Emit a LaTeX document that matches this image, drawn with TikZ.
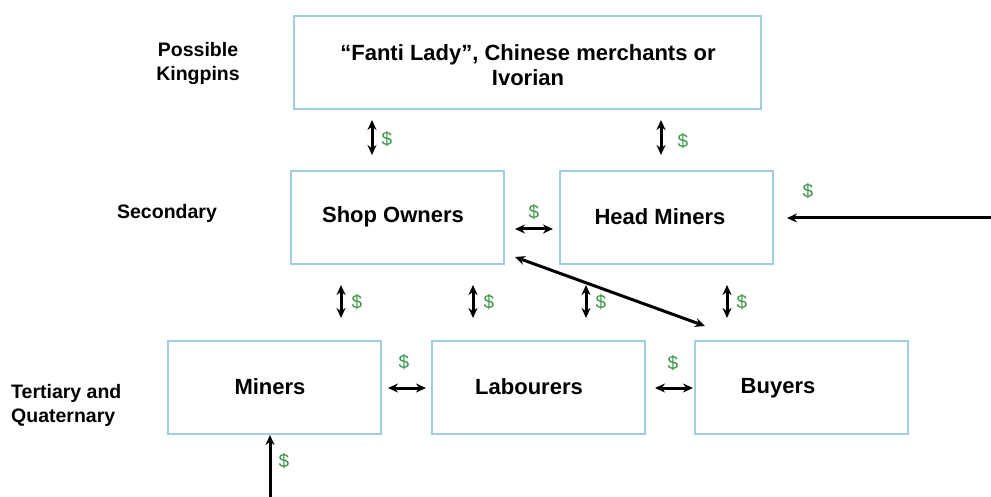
\documentclass[tikz,border=0pt]{standalone}
\usepackage{fontspec}
\setmainfont{Liberation Sans}
\usetikzlibrary{arrows.meta}
\definecolor{boxblue}{RGB}{160,205,225}
\definecolor{money}{RGB}{60,150,72}
\begin{document}
\begin{tikzpicture}[x=1pt,y=-1pt,
 box/.style={draw=boxblue,line width=2pt,minimum width=213pt,minimum height=93pt,inner sep=0pt},
 txt/.style={font=\bfseries\fontsize{22}{25}\selectfont,inner sep=0pt,align=center},
 side/.style={font=\bfseries\fontsize{19.5}{24}\selectfont,inner sep=0pt},
 cash/.style={text=money,font=\fontsize{19}{20}\selectfont,inner sep=0pt},
 flow/.style={line width=3pt,-{Stealth[length=10pt,width=9pt]}},
 both/.style={line width=3pt,{Stealth[length=10pt,width=9pt]}-{Stealth[length=10pt,width=9pt]}}]
\useasboundingbox (0,0) rectangle (991,497);
\fill[white] (0,0) rectangle (991,497);

% boxes
\node[box,minimum width=467pt] (king) at (527.5,63) {};
\node[box] (shop) at (397.5,217.5) {};
\node[box] (head) at (666.5,217.5) {};
\node[box] (miners) at (274,387.5) {};
\node[box] (lab) at (538,387.5) {};
\node[box] (buy) at (801,387.5) {};

% box texts
\node[txt] (kingt) at (528,65) {“Fanti Lady”, Chinese merchants or\\Ivorian};
\node[txt] (shopt) at (393,217) {Shop Owners};
\node[txt] (headt) at (660,217) {Head Miners};
\node[txt] (minerst) at (270,387) {Miners};
\node[txt] (labt) at (529,387) {Labourers};
\node[txt] (buyt) at (778,388) {Buyers};

% side labels
\node[side,align=center] (l1) at (198,64) {Possible\\Kingpins};
\node[side] (l2) at (167,213) {Secondary};
\node[side,align=left,anchor=west] (l3) at (11,405) {Tertiary and\\Quaternary};

% connector coordinates
\coordinate (a1) at (372,120); \coordinate (a2) at (372,155);
\coordinate (b1) at (661,120); \coordinate (b2) at (661,155);
\coordinate (c1) at (515,229); \coordinate (c2) at (553,229);
\coordinate (d1) at (341,285); \coordinate (d2) at (341,318);
\coordinate (e1) at (473,285); \coordinate (e2) at (473,318);
\coordinate (f1) at (586,285); \coordinate (f2) at (586,318);
\coordinate (g1) at (727,285); \coordinate (g2) at (727,318);
\coordinate (h1) at (388,388); \coordinate (h2) at (426,388);
\coordinate (i1) at (655,388); \coordinate (i2) at (693,388);
\coordinate (j1) at (270,497); \coordinate (j2) at (270,435);
\coordinate (k1) at (991,218); \coordinate (k2) at (787,218);
\coordinate (m1) at (515,257); \coordinate (m2) at (705,326);

\draw[both] (a1) -- (a2);
\draw[both] (b1) -- (b2);
\draw[both] (c1) -- (c2);
\draw[both] (d1) -- (d2);
\draw[both] (e1) -- (e2);
\draw[both] (f1) -- (f2);
\draw[both] (g1) -- (g2);
\draw[both] (h1) -- (h2);
\draw[both] (i1) -- (i2);
\draw[both] (m1) -- (m2);
\draw[flow] (j1) -- (j2);
\draw[flow] (k1) -- (k2);

% money labels
\node[cash] (s1) at (387,139) {\$};
\node[cash] (s2) at (683,141) {\$};
\node[cash] (s3) at (534,212) {\$};
\node[cash] (s4) at (808,191) {\$};
\node[cash] (s5) at (357,302) {\$};
\node[cash] (s6) at (489,302) {\$};
\node[cash] (s7) at (601,302) {\$};
\node[cash] (s8) at (742,302) {\$};
\node[cash] (s9) at (404,362) {\$};
\node[cash] (s10) at (673,363) {\$};
\node[cash] (s11) at (284,461) {\$};
\end{tikzpicture}
\end{document}
